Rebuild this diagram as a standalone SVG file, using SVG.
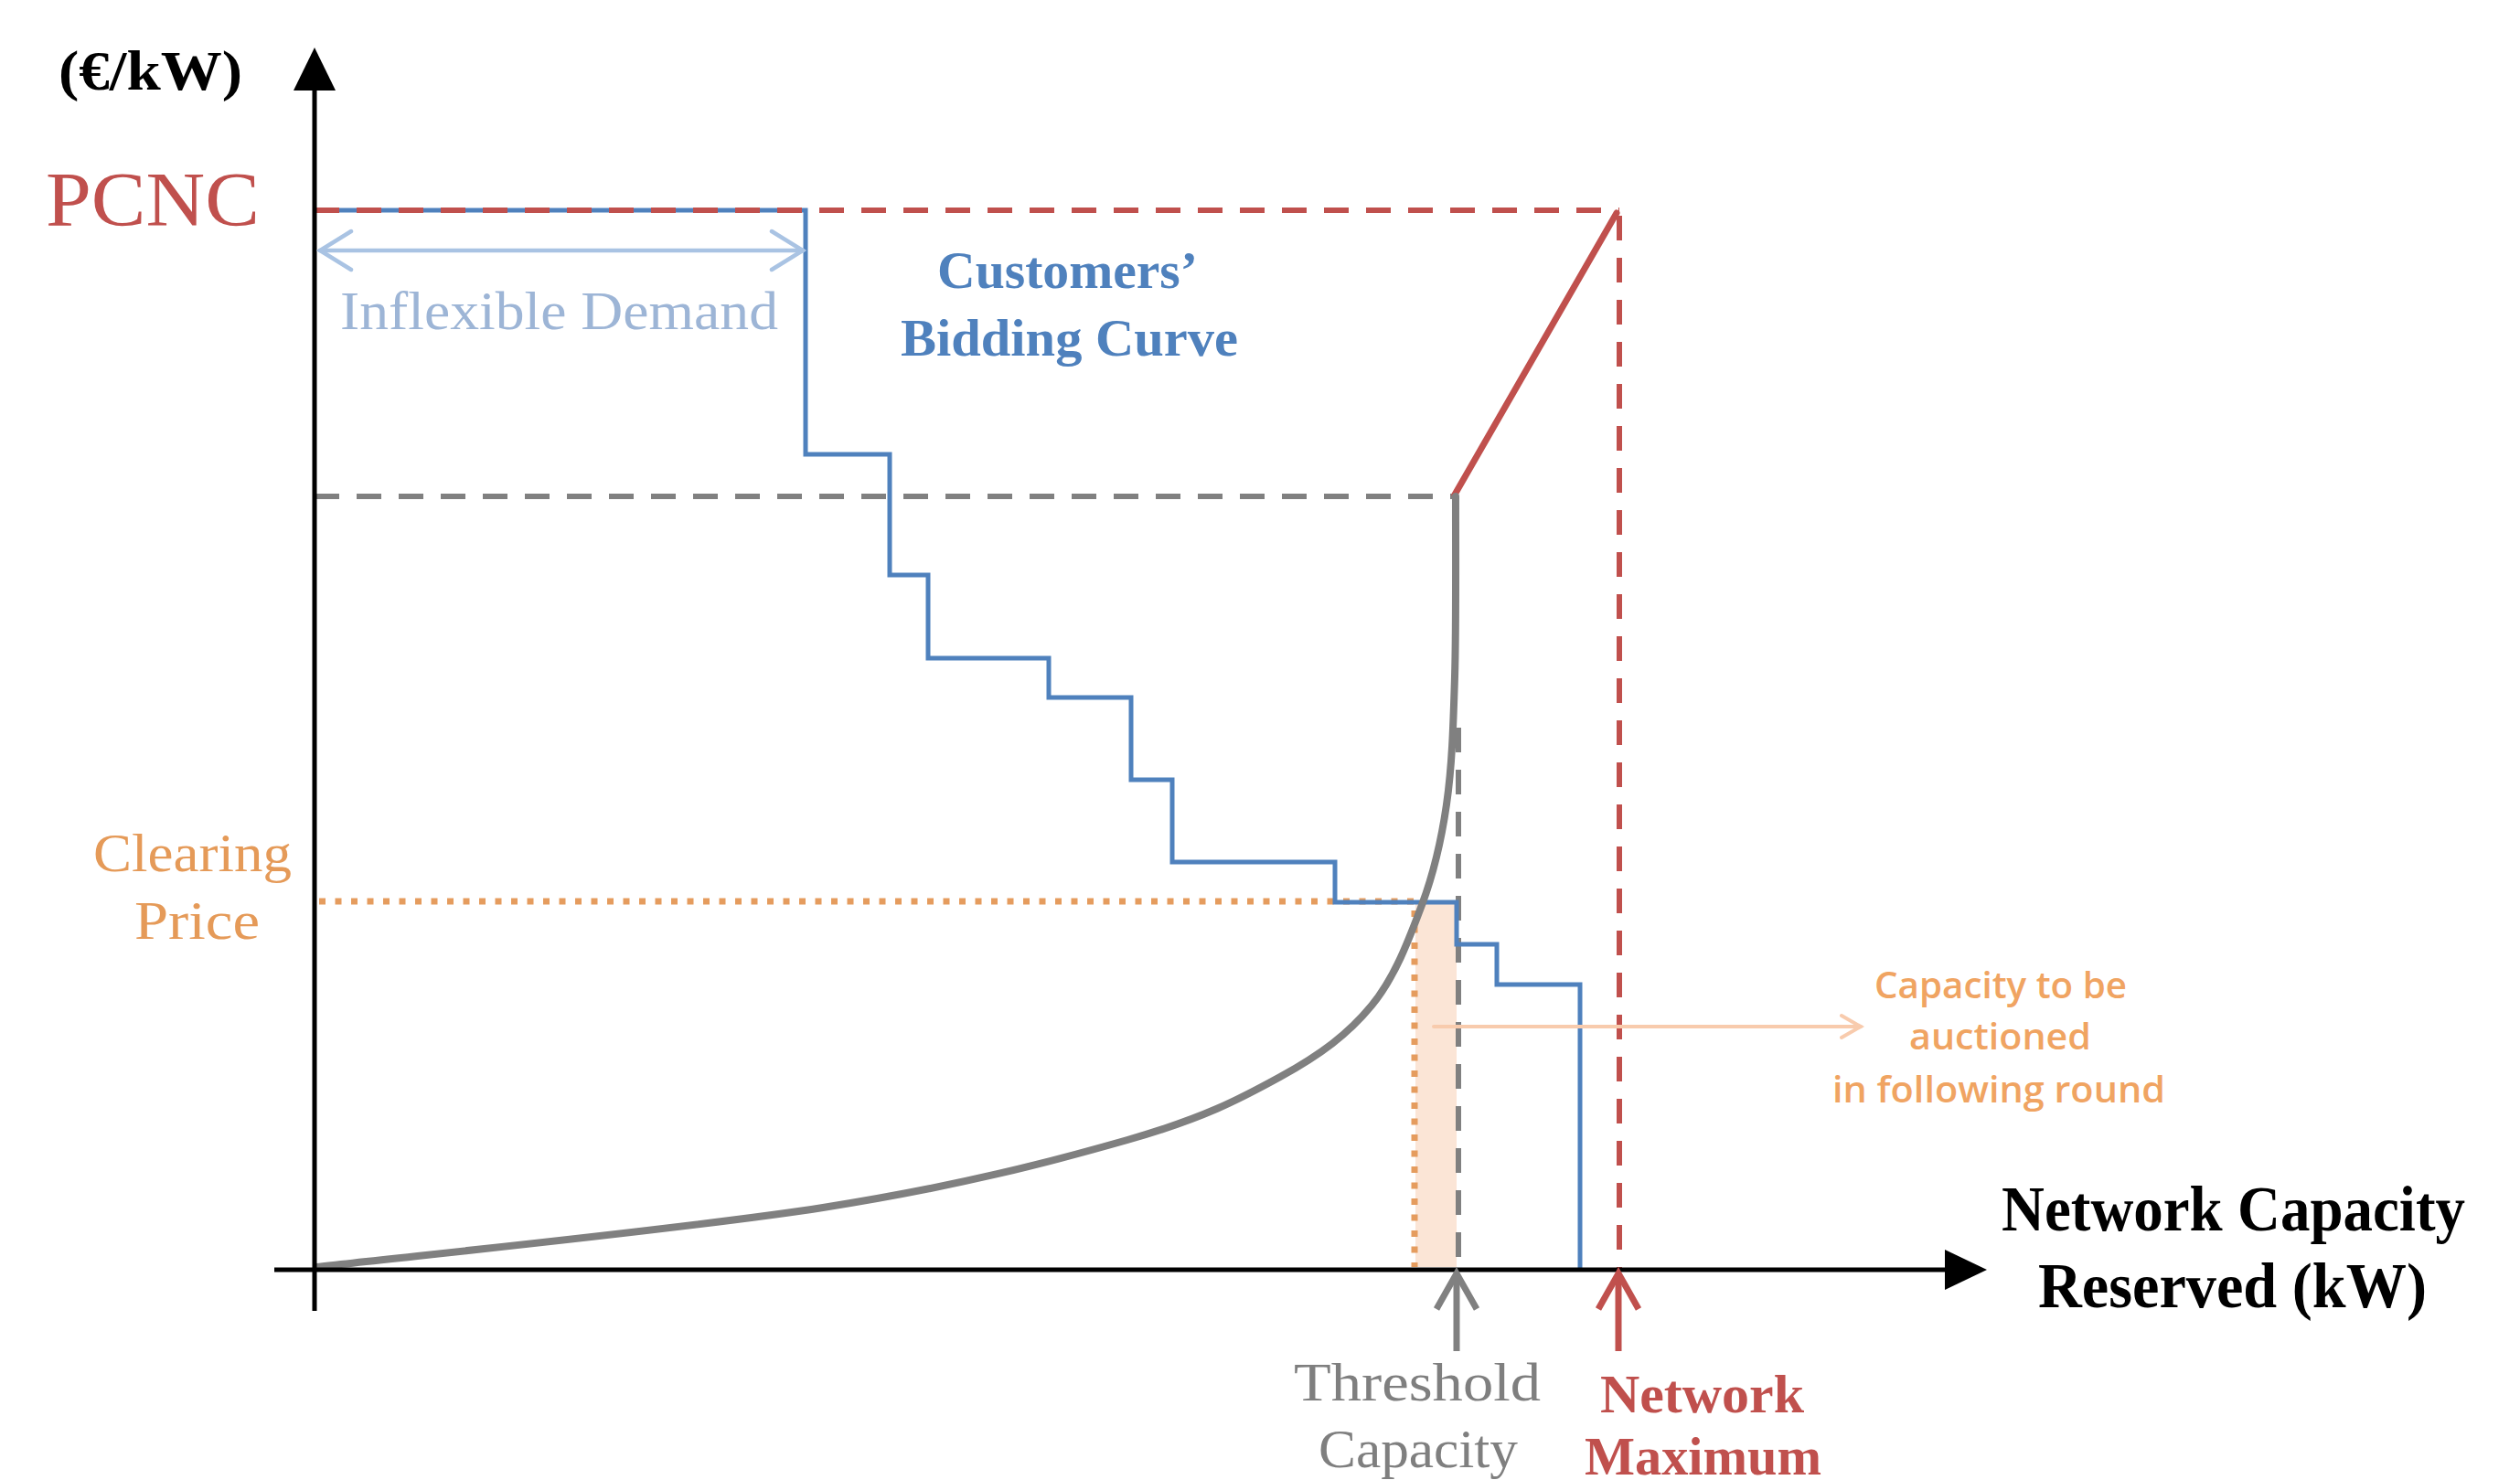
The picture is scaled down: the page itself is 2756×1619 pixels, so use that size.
<svg xmlns="http://www.w3.org/2000/svg" width="2756" height="1619" viewBox="0 0 2756 1619">
<style>
.serif{font-family:"Liberation Serif","Times New Roman",serif}
.sans{font-family:"Open Sans","Noto Sans","Liberation Sans",sans-serif;font-weight:600}
.dash{fill:none;stroke-width:6;stroke-dasharray:27 19}
.red{stroke:#C0504D}
.gray{stroke:#808080}
.step{fill:none;stroke:#4F81BD;stroke-width:5;stroke-linejoin:miter}
.dot{fill:none;stroke:#E59C5E;stroke-width:7;stroke-dasharray:7 10.5}
.axis{stroke:#000;stroke-width:5;fill:none}
</style>
<rect width="2756" height="1619" fill="#fff"/>

<g id="shade">
<rect x="1548" y="988" width="45" height="398" fill="#FBE5D6"/>
</g>

<g id="guides">
<line class="dash gray" x1="344" y1="543" x2="1590" y2="543"/>
<line class="dash gray" x1="1595" y1="796" x2="1595" y2="1386"/>
<line class="dot" x1="349" y1="986" x2="1550" y2="986"/>
<line class="dot" x1="1547" y1="996" x2="1547" y2="1386"/>
</g>

<g id="bidding-curve">
<path class="step" d="M344,230 H881 V497 H973 V629 H1015 V720 H1147 V763 H1237 V853 H1282 V943 H1460 V987 H1593 V1033 H1637 V1077 H1728 V1388"/>
</g>

<g id="pcnc-bounds">
<line class="dash red" x1="344" y1="230" x2="1771" y2="230"/>
<line class="dash red" x1="1771" y1="236" x2="1771" y2="1388"/>
<line x1="1591" y1="541" x2="1768" y2="233" stroke="#C0504D" stroke-width="7" stroke-linecap="round"/>
</g>

<g id="cost-curve">
<path fill="none" stroke="#808080" stroke-width="8" stroke-linecap="round" d="M346,1386 C438.3,1375.2 752.2,1344.2 900,1321 C1047.8,1297.8 1149.7,1270.8 1233,1247 C1316.3,1223.2 1355.5,1202.5 1400,1178 C1444.5,1153.5 1474.2,1131.3 1500,1100 C1525.8,1068.7 1541.3,1026.7 1555,990 C1568.7,953.3 1576,921.7 1582,880 C1588,838.3 1589.3,796.2 1591,740 C1592.7,683.8 1591.8,575.8 1592,543"/>
</g>

<g id="axes">
<line class="axis" x1="344" y1="96" x2="344" y2="1434"/>
<polygon points="344,52 321,99 367,99" fill="#000"/>
<line class="axis" x1="300" y1="1389" x2="2130" y2="1389"/>
<polygon points="2173,1389 2127,1367 2127,1411" fill="#000"/>
</g>

<g id="connectors">
<g id="inflexible-arrow" stroke="#A9C3E3" stroke-width="4.5" fill="none" stroke-linecap="round">
<line x1="350" y1="274" x2="878" y2="274"/>
<polyline points="384,253 350,274 384,295"/>
<polyline points="844,253 878,274 844,295"/>
</g>
<g id="capacity-arrow" stroke="#F8CBAD" stroke-width="4" fill="none" stroke-linecap="round">
<line x1="1568" y1="1123" x2="2035" y2="1123"/>
<polyline points="2014,1111 2035,1123 2014,1135"/>
</g>
<g id="threshold-arrow" stroke="#808080" stroke-width="7" fill="none">
<line x1="1593" y1="1393" x2="1593" y2="1478"/>
<polyline points="1571,1432 1593,1393 1615,1432"/>
</g>
<g id="maximum-arrow" stroke="#C0504D" stroke-width="7" fill="none">
<line x1="1770" y1="1393" x2="1770" y2="1478"/>
<polyline points="1748,1432 1770,1393 1792,1432"/>
</g>
</g>

<g id="label-yaxis">
<text class="serif" x="64" y="98" font-size="62" font-weight="bold" fill="#000" textLength="201" lengthAdjust="spacingAndGlyphs">(€/kW)</text>
</g>
<g id="label-pcnc">
<text class="serif" x="50" y="247" font-size="85" fill="#C0504D" textLength="234" lengthAdjust="spacingAndGlyphs">PCNC</text>
</g>
<g id="label-inflexible">
<text class="serif" x="372" y="360" font-size="60" fill="#9DB5D6" textLength="479" lengthAdjust="spacingAndGlyphs">Inflexible Demand</text>
</g>
<g id="label-bidding">
<text class="serif" x="1025" y="315" font-size="58" font-weight="bold" fill="#4F81BD" textLength="285" lengthAdjust="spacingAndGlyphs">Customers’</text>
<text class="serif" x="985" y="389" font-size="58" font-weight="bold" fill="#4F81BD" textLength="369" lengthAdjust="spacingAndGlyphs">Bidding Curve</text>
</g>
<g id="label-clearing">
<text class="serif" x="102" y="953" font-size="60" fill="#E59A58" textLength="217" lengthAdjust="spacingAndGlyphs">Clearing</text>
<text class="serif" x="147" y="1027" font-size="60" fill="#E59A58" textLength="137" lengthAdjust="spacingAndGlyphs">Price</text>
</g>
<g id="label-auction">
<text class="sans" x="2050" y="1092" font-size="40" fill="#F0A462" textLength="276" lengthAdjust="spacingAndGlyphs">Capacity to be</text>
<text class="sans" x="2088" y="1148" font-size="40" fill="#F0A462" textLength="199" lengthAdjust="spacingAndGlyphs">auctioned</text>
<text class="sans" x="2004" y="1206" font-size="40" fill="#F0A462" textLength="364" lengthAdjust="spacingAndGlyphs">in following round</text>
</g>
<g id="label-xaxis">
<text class="serif" x="2189" y="1346" font-size="70" font-weight="bold" fill="#000" textLength="507" lengthAdjust="spacingAndGlyphs">Network Capacity</text>
<text class="serif" x="2229" y="1430" font-size="70" font-weight="bold" fill="#000" textLength="425" lengthAdjust="spacingAndGlyphs">Reserved (kW)</text>
</g>
<g id="label-threshold">
<text class="serif" x="1415" y="1532" font-size="60" fill="#7F7F7F" textLength="270" lengthAdjust="spacingAndGlyphs">Threshold</text>
<text class="serif" x="1442" y="1605" font-size="60" fill="#7F7F7F" textLength="218" lengthAdjust="spacingAndGlyphs">Capacity</text>
</g>
<g id="label-maximum">
<text class="serif" x="1750" y="1545" font-size="60" font-weight="bold" fill="#C0504D" textLength="223" lengthAdjust="spacingAndGlyphs">Network</text>
<text class="serif" x="1733" y="1613" font-size="60" font-weight="bold" fill="#C0504D" textLength="259" lengthAdjust="spacingAndGlyphs">Maximum</text>
</g>
</svg>
